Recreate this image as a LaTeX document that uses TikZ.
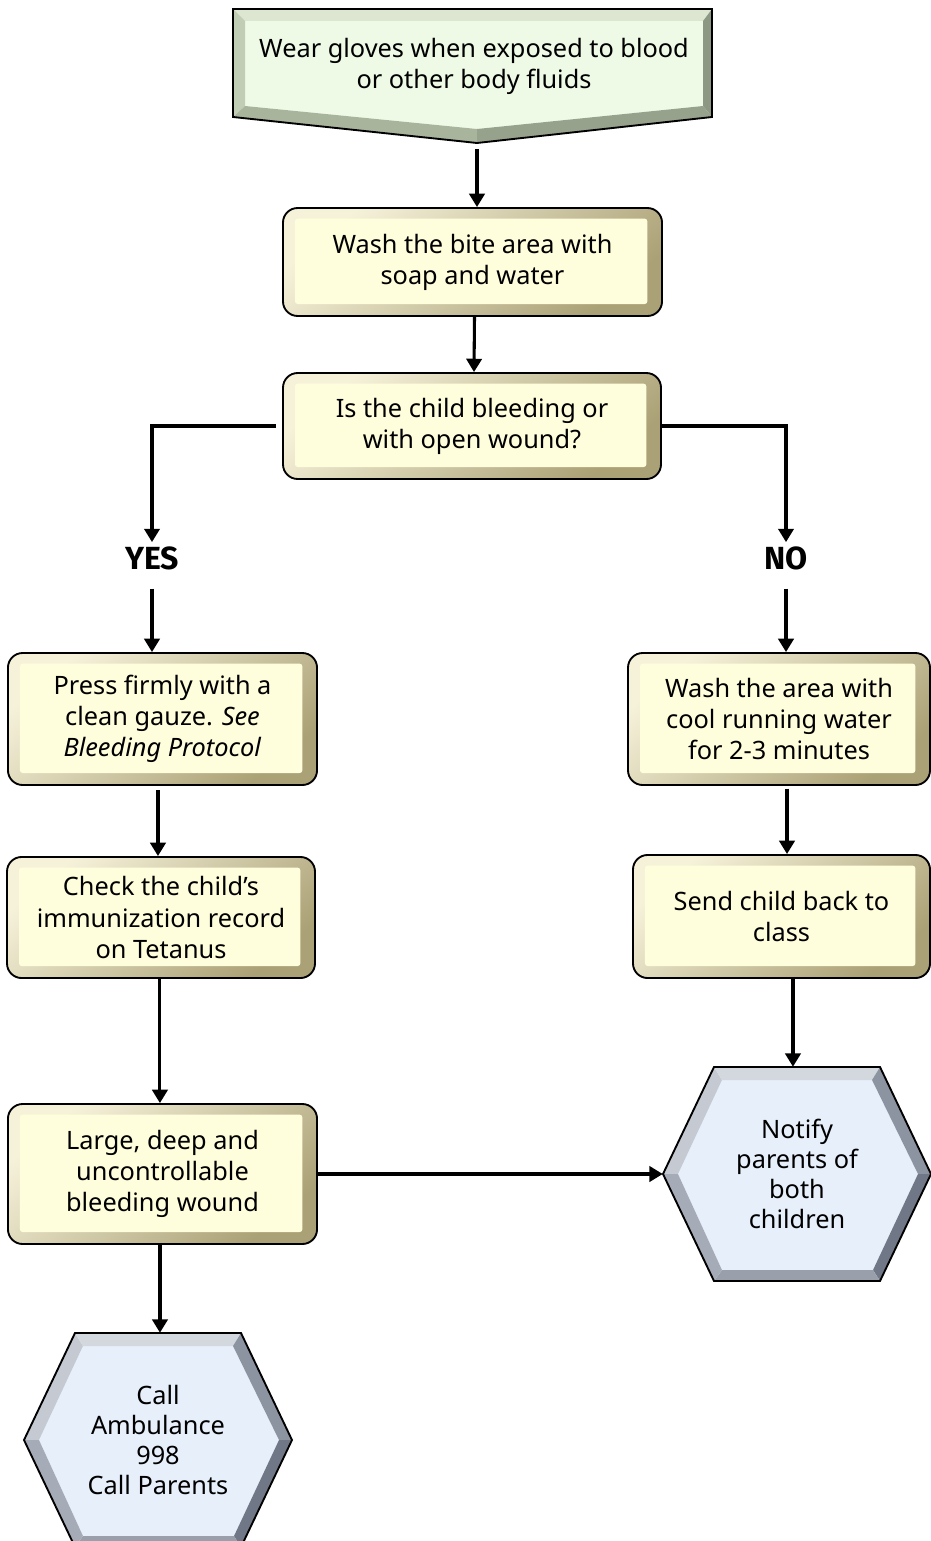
\documentclass[tikz,border=0pt]{standalone}
\usepackage{fontspec}
\setmainfont{Noto Sans}
\newfontfamily\answerfont{Fira Sans}
\usetikzlibrary{arrows.meta}

\definecolor{boxface}{HTML}{FFFEDC}
\definecolor{boxlight}{HTML}{F6F2DA}
\definecolor{boxdark}{HTML}{ABA176}
\definecolor{startface}{HTML}{EEFAE6}
\definecolor{startT}{HTML}{DCE6D0}
\definecolor{startL}{HTML}{C2CDB6}
\definecolor{startR}{HTML}{8C9884}
\definecolor{startBL}{HTML}{A8B49C}
\definecolor{startBR}{HTML}{96A28C}
\definecolor{hexface}{HTML}{E7EFFB}
\definecolor{hexUL}{HTML}{C4C9D2}
\definecolor{hexT}{HTML}{D3D7DE}
\definecolor{hexUR}{HTML}{8D94A1}
\definecolor{hexLR}{HTML}{707786}
\definecolor{hexB}{HTML}{999FAB}
\definecolor{hexLL}{HTML}{A6ACB7}

% bevelled hexagon: name, centre x, centre y, text
\newcommand\bevelhex[4]{%
  \begin{scope}[shift={(#2,#3)}]
    \coordinate (o1) at (-134,0);  \coordinate (o2) at (-83,-107);
    \coordinate (o3) at (83,-107); \coordinate (o4) at (134,0);
    \coordinate (o5) at (83,107);  \coordinate (o6) at (-83,107);
    \coordinate (i1) at (-119,0);  \coordinate (i2) at (-75,-94);
    \coordinate (i3) at (75,-94);  \coordinate (i4) at (121,0);
    \coordinate (i5) at (76,96);   \coordinate (i6) at (-75,96);
    \fill[hexface] (i1)--(i2)--(i3)--(i4)--(i5)--(i6)--cycle;
    \fill[hexUL] (o1)--(o2)--(i2)--(i1)--cycle;
    \fill[hexT]  (o2)--(o3)--(i3)--(i2)--cycle;
    \fill[hexUR] (o3)--(o4)--(i4)--(i3)--cycle;
    \fill[hexLR] (o4)--(o5)--(i5)--(i4)--cycle;
    \fill[hexB]  (o5)--(o6)--(i6)--(i5)--cycle;
    \fill[hexLL] (o6)--(o1)--(i1)--(i6)--cycle;
    \draw[outline] (o1)--(o2)--(o3)--(o4)--(o5)--(o6)--cycle;
  \end{scope}
  \node[hexlabel] (#1) at (#2,#3) {#4};
}

\begin{document}
\begin{tikzpicture}[x=0.75pt,y=-0.75pt,
  font=\fontsize{19}{23.3}\selectfont,
  outline/.style={draw=black, line width=1.4pt, line join=miter},
  flow/.style={line width=2.3pt, -{Triangle[length=10pt,width=11.5pt]}},
  stepbox/.style={rectangle, rounded corners=11pt, draw=black, line width=1.4pt,
    top color=boxlight, bottom color=boxdark, shading angle=40,
    align=center, inner sep=0pt,
    path picture={\fill[boxface, rounded corners=2pt]
      ([xshift=9pt,yshift=-8pt]path picture bounding box.north west) rectangle
      ([xshift=-11pt,yshift=9pt]path picture bounding box.south east);}},
  hexlabel/.style={rectangle, inner sep=0pt, minimum width=201pt,
    minimum height=160.5pt, align=center,
    font=\fontsize{19}{22.5}\selectfont},
  answer/.style={inner sep=3pt, font=\answerfont\bfseries\fontsize{24}{28}\selectfont},
]
\useasboundingbox (0,0) rectangle (931,1541);

% start shape (bevelled pentagon)
\fill[startface] (245,21) -- (703,21) -- (703,106) -- (477,129) -- (245,106) -- cycle;
\fill[startT]  (233,9) -- (712,9) -- (703,21) -- (245,21) -- cycle;
\fill[startL]  (233,9) -- (245,21) -- (245,106) -- (233,117) -- cycle;
\fill[startR]  (712,9) -- (712,117) -- (703,106) -- (703,21) -- cycle;
\fill[startBL] (233,117) -- (245,106) -- (477,129) -- (477,143) -- cycle;
\fill[startBR] (712,117) -- (477,143) -- (477,129) -- (703,106) -- cycle;
\draw[outline] (233,9) -- (712,9) -- (712,117) -- (477,143) -- (233,117) -- cycle;
\node[align=center, inner sep=0pt] (start) at (474,66)
  {Wear gloves when exposed to blood\\or other body fluids};
\coordinate (tip) at (477,143);

% process boxes
\node[stepbox, minimum width=284.3pt, minimum height=81pt] (wash) at (472.5,262)
  {Wash the bite area with\\soap and water};
\node[stepbox, minimum width=283.5pt, minimum height=79.5pt] (query) at (472,426)
  {Is the child bleeding or\\with open wound?};
\node[stepbox, minimum width=231.8pt, minimum height=99pt] (press) at (162.5,719)
  {Press firmly with a\\clean gauze. \textit{See}\\\textit{Bleeding Protocol}};
\node[stepbox, minimum width=231pt, minimum height=90.8pt] (check) at (161,917.5)
  {Check the child’s\\immunization record\\on Tetanus};
\node[stepbox, minimum width=231.8pt, minimum height=105pt] (large) at (162.5,1174)
  {Large, deep and\\uncontrollable\\bleeding wound};
\node[stepbox, minimum width=226.5pt, minimum height=99pt] (rinse) at (779,719)
  {Wash the area with\\cool running water\\for 2-3 minutes};
\node[stepbox, minimum width=222.8pt, minimum height=92.3pt] (send) at (781.5,916.5)
  {Send child back to\\class};

% terminal hexagons
\bevelhex{notify}{797}{1174}{Notify\\parents of\\both\\children}
\bevelhex{amb}{158}{1440}{Call\\Ambulance\\998\\Call Parents}

% branch labels
\node[answer] (yes) at (152,558) {YES};
\node[answer] (no) at (786,558) {NO};

% connectors
\draw[flow] ([yshift=-4.5pt]tip) -- (tip |- wash.north);
\draw[flow] ([xshift=1.5pt]wash.south) -- ([xshift=1.5pt]query.north);
\draw[flow] ([xshift=-4.5pt]query.west) -| (yes.north);
\draw[flow] (query.east) -| (no.north);
\draw[flow] ([yshift=-11pt]yes.south) -- (yes.south |- press.north);
\draw[flow] ([yshift=-11pt]no.south) -- (no.south |- rinse.north);
\draw[flow] ([xshift=-3.4pt,yshift=-3pt]press.south) -- ([xshift=-3.4pt]press.south |- check.north);
\draw[flow] ([xshift=-0.8pt]check.south) -- ([xshift=-0.8pt]check.south |- large.north);
\draw[flow] (large.east) -- (large.east -| notify.west);
\draw[flow] ([xshift=-1.9pt]large.south) -- ([xshift=-1.9pt]large.south |- amb.north);
\draw[flow] ([xshift=6pt,yshift=-2pt]rinse.south) -- ([xshift=6pt]rinse.south |- send.north);
\draw[flow] ([xshift=8.6pt]send.south) -- ([xshift=8.6pt]send.south |- notify.north);
\end{tikzpicture}
\end{document}
